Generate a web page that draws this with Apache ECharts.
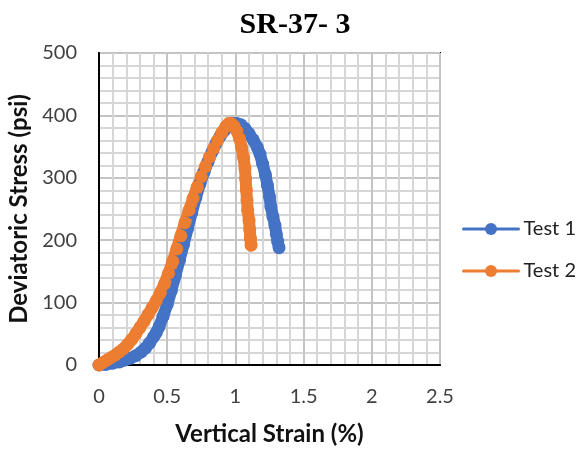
<!DOCTYPE html>
<html>
<head>
<meta charset="utf-8">
<script src="https://cdn.jsdelivr.net/npm/echarts@6/dist/echarts.min.js"></script>
<style>html,body{margin:0;padding:0;background:#fff}#c{width:576px;height:450px}</style>
</head>
<body>
<div id="c"></div>
<script>
const title = 'SR-37- 3';
const xTitle = 'Vertical Strain (%)';
const yTitle = 'Deviatoric Stress (psi)';
const seriesNames = ['Test 1', 'Test 2'];

const test1X = [0,0.05,0.10,0.15,0.19,0.23,0.27,0.31,0.34,0.37,0.40,0.42,0.44,0.47,0.50,0.53,0.56,0.59,0.62,0.65,0.68,0.71,0.74,0.77,0.80,0.83,0.86,0.89,0.92,0.95,0.98,1.01,1.04,1.07,1.10,1.13,1.16,1.18,1.20,1.22,1.235,1.25,1.26,1.275,1.29,1.30,1.31,1.32];
const test1Y = [0,1,3,5,8,11,15,21,27,35,45,52,61,78,97,119,143,168,193,219,244,268,290,309,326,342,356,367,376,383,387,387,385,379,371,361,349,338,322,305,288,270,254,238,224,210,198,188];

const test2X = [0,0.03,0.06,0.09,0.12,0.15,0.18,0.21,0.24,0.27,0.30,0.33,0.36,0.39,0.42,0.45,0.48,0.51,0.54,0.57,0.60,0.63,0.66,0.69,0.72,0.75,0.78,0.81,0.84,0.87,0.90,0.93,0.95,0.97,0.99,1.01,1.03,1.045,1.06,1.07,1.075,1.08,1.085,1.09,1.10,1.105,1.11,1.115];
const test2Y = [0,4,8,12,16,21,26,33,41,50,60,70,81,92,103,116,130,147,166,186,207,228,248,267,285,302,318,333,347,360,372,382,387,387,383,375,363,349,332,315,298,281,264,248,232,217,203,192];

const pairs = (xs, ys) => xs.map((x, i) => [x, ys[i]]);
const colors = ['#4472C4', '#ED7D31'];
const sans = 'Lato';

const chart = echarts.init(document.getElementById('c'), null, {renderer: 'canvas'});
chart.setOption({
  animation: false,
  title: {
    text: title, left: 290, top: 5, textAlign: 'center',
    textStyle: {fontFamily: 'Liberation Serif', fontWeight: 'bold', fontSize: 30, color: '#000'}
  },
  grid: {left: 99, right: 136, top: 53, bottom: 85, outerBoundsMode: 'none', containLabel: false,
         show: true, borderColor: '#000', borderWidth: 2, backgroundColor: 'transparent'},
  legend: {
    orient: 'vertical', left: 457, top: 214, itemGap: 22, itemWidth: 55, itemHeight: 15,
    lineStyle: {width: 3},
    textStyle: {fontFamily: sans, fontSize: 20, color: '#222'},
    data: seriesNames
  },
  xAxis: {
    type: 'value', min: 0, max: 2.5, interval: 0.5,
    name: xTitle, nameLocation: 'middle', nameGap: 57,
    nameTextStyle: {fontFamily: sans, fontWeight: 'bold', fontSize: 24, color: '#111'},
    axisLine: {show: true, onZero: false, lineStyle: {color: '#000', width: 2}},
    axisTick: {show: false},
    axisLabel: {fontFamily: sans, fontSize: 20, color: '#404040', margin: 22},
    splitLine: {show: true, lineStyle: {color: '#c4c4c4', width: 2}},
    minorTick: {show: false, splitNumber: 5},
    minorSplitLine: {show: true, lineStyle: {color: '#d6d6d6', width: 2}}
  },
  yAxis: {
    type: 'value', min: 0, max: 500, interval: 100,
    name: yTitle, nameLocation: 'middle', nameGap: 67,
    nameTextStyle: {fontFamily: sans, fontWeight: 'bold', fontSize: 24, color: '#111'},
    axisLine: {show: true, lineStyle: {color: '#000', width: 2}},
    axisTick: {show: false},
    axisLabel: {fontFamily: sans, fontSize: 20, color: '#404040', margin: 22},
    splitLine: {show: true, lineStyle: {color: '#c4c4c4', width: 2}},
    minorTick: {show: false, splitNumber: 5},
    minorSplitLine: {show: true, lineStyle: {color: '#d6d6d6', width: 2}}
  },
  series: [
    {name: seriesNames[0], type: 'line', data: pairs(test1X, test1Y), symbol: 'circle', symbolSize: 13,
     showAllSymbol: true, color: colors[0], lineStyle: {width: 12, color: colors[0], cap: 'round', join: 'round'}, itemStyle: {color: colors[0]}},
    {name: seriesNames[1], type: 'line', data: pairs(test2X, test2Y), symbol: 'circle', symbolSize: 13,
     showAllSymbol: true, color: colors[1], lineStyle: {width: 12, color: colors[1], cap: 'round', join: 'round'}, itemStyle: {color: colors[1]}}
  ]
});
</script>
</body>
</html>
